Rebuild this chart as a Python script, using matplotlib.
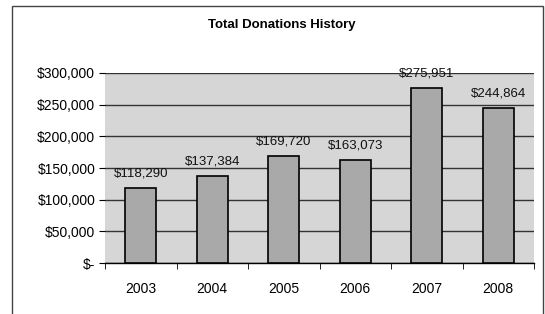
import matplotlib
matplotlib.use("Agg")
import matplotlib.pyplot as plt
from matplotlib.ticker import FuncFormatter
from matplotlib.patches import Rectangle

years = ["2003", "2004", "2005", "2006", "2007", "2008"]
donations = [118290, 137384, 169720, 163073, 275951, 244864]
labels = ["$118,290", "$137,384", "$169,720", "$163,073", "$275,951", "$244,864"]
yticks = [0, 50000, 100000, 150000, 200000, 250000, 300000]

plt.rcParams['font.family'] = ['Liberation Sans', 'DejaVu Sans']

W, H = 545, 314
fig = plt.figure(figsize=(W / 100, H / 100), dpi=100)
fig.patch.set_facecolor('white')

# chart border (left, top, right)
fig.patches.append(Rectangle((12 / W, -0.05), (543 - 12) / W, 1.05 - 6 / H,
                             transform=fig.transFigure, fill=False,
                             edgecolor='#444444', linewidth=1.0))

ax = fig.add_axes([105 / W, 1 - 263 / H, (534 - 105) / W, (263 - 73) / H])
ax.set_facecolor('#d6d6d6')

x = list(range(len(years)))
ax.bar(x, donations, width=0.44, color='#a9a9a9', edgecolor='black',
       linewidth=1.2, zorder=3)

for xi, v, lab in zip(x, donations, labels):
    ax.annotate(lab, (xi, v), xytext=(0, 6), textcoords='offset points',
                ha='center', va='bottom', fontsize=9.5, color='#111111', zorder=4)

ax.set_xlim(-0.5, len(years) - 0.5)
ax.set_ylim(0, 300000)
ax.set_yticks(yticks)
ax.yaxis.set_major_formatter(FuncFormatter(
    lambda v, p: "$-" if v == 0 else "${:,.0f}".format(v)))
ax.yaxis.grid(True, color='#333333', linewidth=1.0, zorder=1)
ax.set_axisbelow(True)

ax.set_xticks(x)
ax.set_xticklabels(years)
ax.set_xticks([i - 0.5 for i in range(len(years) + 1)], minor=True)
ax.tick_params(axis='x', which='major', length=0, pad=14, labelsize=10)
ax.tick_params(axis='x', which='minor', length=4, direction='out', color='black')
ax.tick_params(axis='y', length=4, direction='out', labelsize=10, pad=3)

for s in ['top', 'right']:
    ax.spines[s].set_visible(False)
ax.spines['left'].set_visible(False)
ax.spines['bottom'].set_color('black')
ax.spines['bottom'].set_linewidth(1.0)

fig.text(282 / W, 1 - 25 / H, "Total Donations History", ha='center', va='center',
         fontsize=9.5, fontweight='bold')

fig.savefig('out.png', dpi=100)
